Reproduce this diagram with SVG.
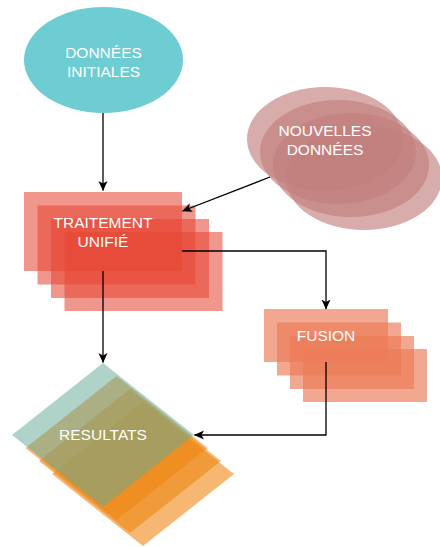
<svg xmlns="http://www.w3.org/2000/svg" width="440" height="547" viewBox="0 0 440 547">
  <defs>
    <style>
      .lbl { font-family: "Liberation Sans", Arial, Helvetica, sans-serif; font-size: 15.5px; fill: #ffffff; text-anchor: middle; }
      .conn { fill: none; stroke: #000000; stroke-width: 1.3; }
      .nd { fill: #C27F7C; fill-opacity: 0.65; }
      .tr { fill: #E64735; fill-opacity: 0.57; }
      .fu { fill: #EC7B56; fill-opacity: 0.66; }
      .or { fill: #EE8714; fill-opacity: 0.6; }
      .te { fill: #65AA95; fill-opacity: 0.52; }
    </style>
    <marker id="arr" viewBox="0 0 10 10" refX="9.5" refY="5" markerWidth="10" markerHeight="10" markerUnits="userSpaceOnUse" orient="auto">
      <path d="M0,0.5 L10,5 L0,9.5 L2.5,5 Z" fill="#000000"/>
    </marker>
  </defs>

  <g id="donnees-initiales">
    <ellipse cx="103.5" cy="60" rx="79.5" ry="53" fill="#6ECDD3"/>
    <text class="lbl" x="103.5" y="57.5">DONNÉES</text>
    <text class="lbl" x="103.5" y="76.5">INITIALES</text>
  </g>

  <g id="nouvelles-donnees">
    <ellipse class="nd" cx="325" cy="139" rx="78" ry="52"/>
    <ellipse class="nd" cx="338" cy="152" rx="78" ry="52"/>
    <ellipse class="nd" cx="351" cy="165" rx="78" ry="52"/>
    <ellipse class="nd" cx="364" cy="178" rx="78" ry="52"/>
    <text class="lbl" x="325" y="135.5">NOUVELLES</text>
    <text class="lbl" x="325" y="155">DONNÉES</text>
  </g>

  <g id="traitement-unifie">
    <rect class="tr" x="24" y="192" width="158" height="79"/>
    <rect class="tr" x="37.5" y="205.5" width="158" height="79"/>
    <rect class="tr" x="51" y="219" width="158" height="79"/>
    <rect class="tr" x="64.5" y="232" width="158" height="79"/>
    <text class="lbl" x="103" y="227.5">TRAITEMENT</text>
    <text class="lbl" x="103" y="247">UNIFIÉ</text>
  </g>

  <g id="fusion">
    <rect class="fu" x="264" y="309" width="124" height="53"/>
    <rect class="fu" x="277" y="322.5" width="124" height="53"/>
    <rect class="fu" x="290" y="336" width="124" height="53"/>
    <rect class="fu" x="303" y="349" width="124" height="53"/>
    <text class="lbl" x="326" y="340.5">FUSION</text>
  </g>

  <g id="resultats">
    <polygon class="or" points="116.5,376 207.5,448 116.5,520 25.5,448"/>
    <polygon class="or" points="130,389 221,461 130,533 39,461"/>
    <polygon class="or" points="143,402 234,474 143,546 52,474"/>
    <polygon class="te" points="103,363 194,435 103,507 12,435"/>
    <text class="lbl" x="103" y="439.5">RESULTATS</text>
  </g>

  <g id="connectors">
    <path class="conn" d="M103,113 L103,190.5" marker-end="url(#arr)"/>
    <path class="conn" d="M270,177 L182.5,211" marker-end="url(#arr)"/>
    <path class="conn" d="M103,271 L103,362.5" marker-end="url(#arr)"/>
    <path class="conn" d="M182,251 L326,251 L326,309" marker-end="url(#arr)"/>
    <path class="conn" d="M326,362 L326,435 L194.5,435" marker-end="url(#arr)"/>
  </g>
</svg>
